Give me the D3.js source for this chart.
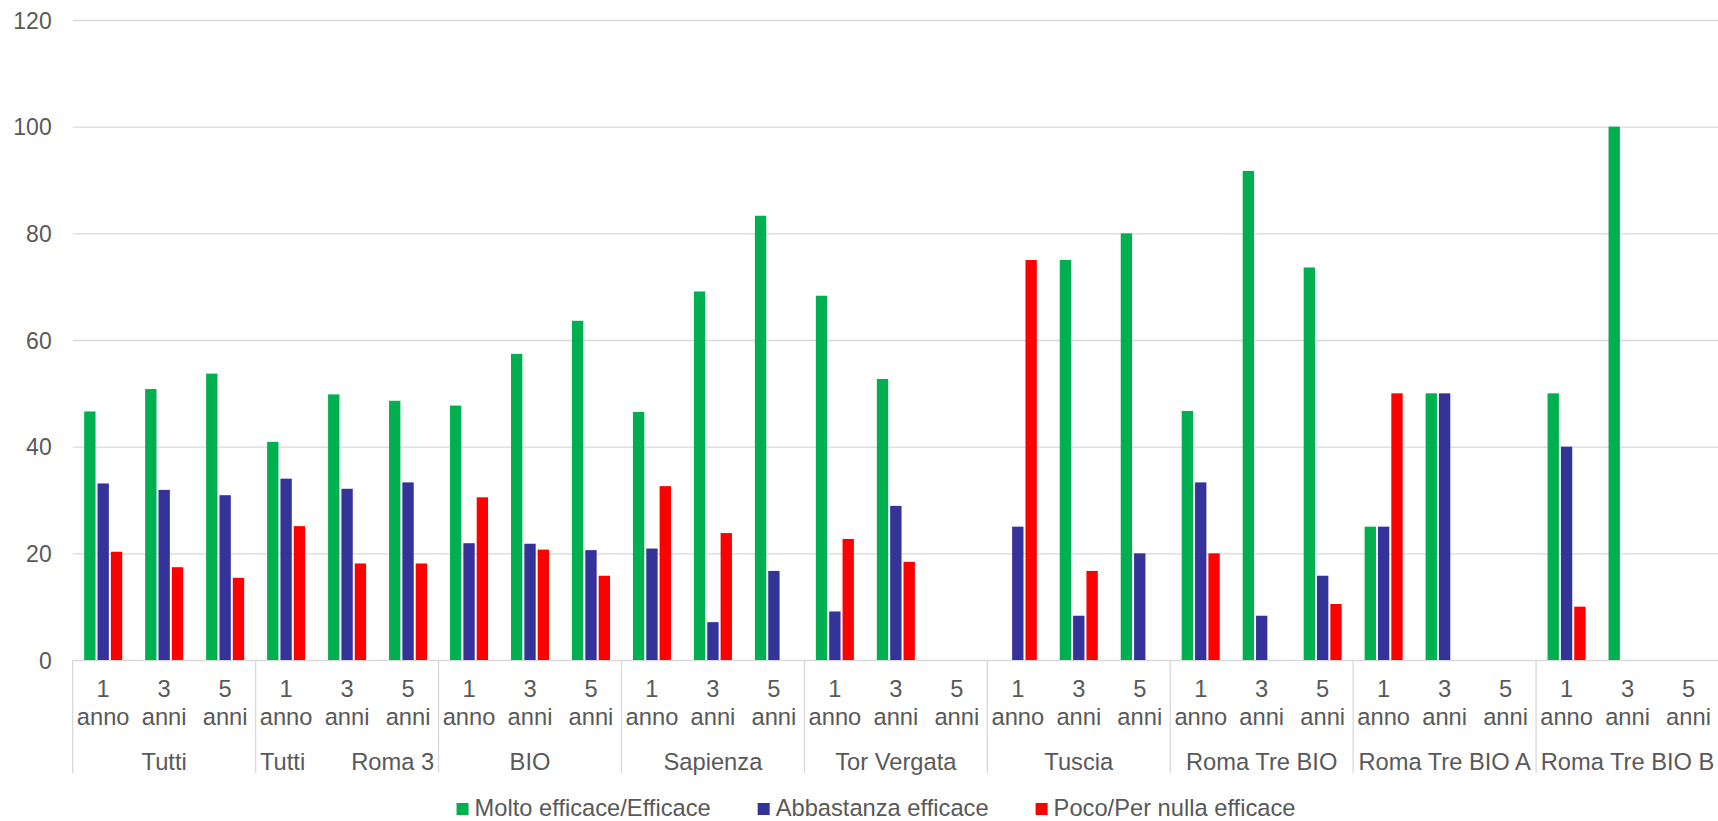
<!DOCTYPE html>
<html>
<head>
<meta charset="utf-8">
<script src="https://cdnjs.cloudflare.com/ajax/libs/d3/7.8.5/d3.min.js"></script>
<style>
	body { margin: 0; background: #fff; }
	svg { display: block; font-family: "Liberation Sans", Arial, sans-serif; }
	.axis text, .label, .legend-label { fill: #595959; }
</style>
</head>
<body>
<svg width="1718" height="821"></svg>
<script>
// groups and sub-categories of the x axis
const groups = ["Tutti", "Tutti       Roma 3", "BIO", "Sapienza", "Tor Vergata", "Tuscia", "Roma Tre BIO", "Roma Tre BIO A", "Roma Tre BIO B"];
const periods = [["1", "anno"], ["3", "anni"], ["5", "anni"]];
const series = ["Molto efficace/Efficace", "Abbastanza efficace", "Poco/Per nulla efficace"];
const colors = ["#00b050", "#333399", "#ff0000"];
const yTicks = [0, 20, 40, 60, 80, 100, 120];

// one value per group x period, in the order of groups above
const molto = [46.6, 50.8, 53.7, 40.9, 49.8, 48.6, 47.7, 57.4, 63.6, 46.5, 69.1, 83.3, 68.3, 52.7, 0, 0, 75, 80, 46.7, 91.7, 73.6, 25, 50, 0, 50, 100, 0];
const abbastanza = [33.1, 31.9, 30.9, 34.0, 32.1, 33.3, 21.9, 21.8, 20.6, 20.9, 7.1, 16.7, 9.1, 28.9, 0, 25, 8.3, 20, 33.3, 8.3, 15.8, 25, 50, 0, 40, 0, 0];
const poco = [20.3, 17.4, 15.4, 25.1, 18.1, 18.1, 30.5, 20.7, 15.8, 32.6, 23.8, 0, 22.7, 18.4, 0, 75, 16.7, 0, 20, 0, 10.5, 50, 0, 0, 10, 0, 0];

const values = [molto, abbastanza, poco];

const svg = d3.select("svg");
const plotLeft = 72.7, plotRight = 1719, plotBottom = 660, plotTop = 20;
const fontSize = 23.7;

const cats = [];
groups.forEach(function(g, gi) {
	periods.forEach(function(p, pi) {
		cats.push({ key: gi + "-" + pi, group: g, gi: gi, period: p });
	});
});
const data = cats.map(function(c, i) {
	return { cat: c, vals: series.map(function(s, si) { return { s: s, si: si, v: values[si][i] }; }) };
});

const x0 = d3.scaleBand()
	.domain(cats.map(function(c) { return c.key; }))
	.range([plotLeft, plotRight]);

const x1 = d3.scaleBand()
	.domain(series)
	.range([0, x0.bandwidth()])
	.paddingInner(0.15)
	.paddingOuter(0.86);

const y = d3.scaleLinear()
	.domain([0, 120])
	.range([plotBottom, plotTop]);

// y axis with gridlines
const yAxis = svg.append("g")
	.attr("class", "axis y")
	.attr("transform", "translate(" + plotLeft + ",0)")
	.call(d3.axisLeft(y).tickValues(yTicks).tickSize(-(1718 - plotLeft)).tickPadding(21));
yAxis.select(".domain").remove();
yAxis.selectAll("line").attr("stroke", "#d9d9d9").attr("stroke-width", 1.3);
yAxis.selectAll("text").attr("font-size", 23).attr("dy", "0.35em");

// bars
const cell = svg.append("g").attr("class", "bars")
	.selectAll("g")
	.data(data)
	.join("g")
	.attr("transform", function(d) { return "translate(" + x0(d.cat.key) + ",0)"; });

cell.selectAll("rect")
	.data(function(d) { return d.vals.filter(function(v) { return v.v > 0; }); })
	.join("rect")
	.attr("x", function(d) { return x1(d.s); })
	.attr("width", x1.bandwidth())
	.attr("y", function(d) { return y(d.v); })
	.attr("height", function(d) { return y(0) - y(d.v); })
	.attr("fill", function(d) { return colors[d.si]; });

// x axis: period labels
const xAxis = svg.append("g")
	.attr("class", "axis x")
	.attr("transform", "translate(0," + plotBottom + ")")
	.call(d3.axisBottom(x0).tickSize(0).tickFormat(""));
xAxis.select(".domain").remove();
xAxis.selectAll(".tick").each(function(k) {
	const c = cats.find(function(c) { return c.key === k; });
	const t = d3.select(this).select("text").attr("font-size", fontSize).attr("y", 0).attr("dy", null);
	t.append("tspan").attr("x", 0).attr("y", 37).text(c.period[0]);
	t.append("tspan").attr("x", 0).attr("y", 65).text(c.period[1]);
});

// group labels and separators
const groupG = svg.append("g").attr("class", "groups");
groups.forEach(function(g, gi) {
	const gx = x0(gi + "-0");
	const gxe = x0(gi + "-2") + x0.bandwidth();
	groupG.append("line")
		.attr("x1", gx).attr("x2", gx)
		.attr("y1", plotBottom).attr("y2", 773)
		.attr("stroke", "#d9d9d9").attr("stroke-width", 1.3);
	groupG.append("text")
		.attr("class", "label")
		.attr("x", (gx + gxe) / 2)
		.attr("y", 770)
		.attr("text-anchor", "middle")
		.attr("font-size", fontSize)
		.style("white-space", "pre")
		.text(g);
});

// legend
const legend = svg.append("g").attr("class", "legend");
const legendCenter = 876;
const items = legend.selectAll("g")
	.data(series)
	.join("g");
items.append("rect")
	.attr("width", 12).attr("height", 12)
	.attr("y", 803)
	.attr("fill", function(d, i) { return colors[i]; });
items.append("text")
	.attr("class", "legend-label")
	.attr("x", 18)
	.attr("y", 816)
	.attr("font-size", fontSize)
	.text(function(d) { return d; });

let widths = [];
items.each(function() { widths.push(this.getBBox().width); });
const gap = 47;
const total = d3.sum(widths) + gap * (widths.length - 1);
let pos = legendCenter - total / 2;
items.attr("transform", function(d, i) {
	const t = "translate(" + pos + ",0)";
	pos += widths[i] + gap;
	return t;
});
</script>
</body>
</html>
